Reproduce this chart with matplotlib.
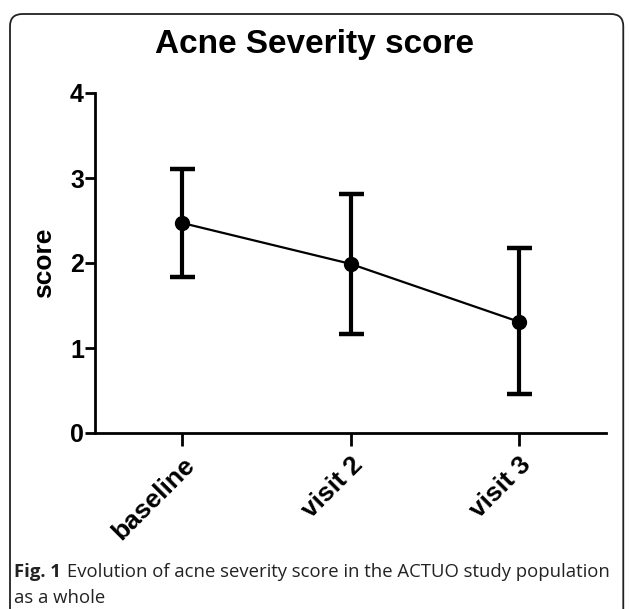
import matplotlib
matplotlib.use("Agg")
import matplotlib.pyplot as plt
from matplotlib.patches import FancyBboxPatch

visits = ["baseline", "visit 2", "visit 3"]
mean_score = [2.47, 1.99, 1.31]
err_up = [0.64, 0.82, 0.87]
err_down = [0.63, 0.83, 0.85]

plt.rcParams['font.family'] = ['Liberation Sans', 'DejaVu Sans']

fig = plt.figure(figsize=(6.29, 6.09), dpi=100)
W, H = 629, 609

# rounded frame around the figure panel
box = FancyBboxPatch((10 / W, -0.05), 0.975, (609 - 14) / H + 0.05,
                     boxstyle="round,pad=0,rounding_size=0.02",
                     transform=fig.transFigure, fill=False,
                     edgecolor="#222222", linewidth=1.3, clip_on=False)
fig.patches.append(box)

ax = fig.add_axes([95 / W, (609 - 433) / H, (606 - 95) / W, (433 - 93) / H])
x = list(range(len(visits)))
ax.errorbar(x, mean_score, yerr=[err_down, err_up], color="black",
            marker="o", markersize=10, linewidth=1.6, elinewidth=3,
            capsize=9, capthick=3.2)

ax.set_xlim(-0.52, 2.52)
ax.set_ylim(0, 4)
ax.set_yticks([0, 1, 2, 3, 4])
ax.set_xticks(x)
ax.set_xticklabels(visits, rotation=45, ha="right", rotation_mode="anchor",
                   fontsize=19, fontweight="bold")
for lab in ax.get_yticklabels():
    lab.set_fontsize(18)
    lab.set_fontweight("bold")
ax.tick_params(axis="y", length=7, width=2, pad=1)
ax.tick_params(axis="x", length=9, width=2, pad=5)
for s in ["top", "right"]:
    ax.spines[s].set_visible(False)
for s in ["left", "bottom"]:
    ax.spines[s].set_linewidth(2)
ax.set_ylabel("score", fontsize=19, fontweight="bold", labelpad=10)

fig.text(0.5, 1 - 45 / H, "Acne Severity score", ha="center", va="center",
         fontsize=24, fontweight="bold")

# caption
cap_font = ['Open Sans', 'DejaVu Sans']
t1 = fig.text(14 / W, 1 - 572 / H, "Fig. 1", ha="left", va="center",
              fontsize=13.3, fontweight="bold", family=cap_font,
              color="#222222")
fig.canvas.draw()
bb = t1.get_window_extent(fig.canvas.get_renderer())
fig.text(bb.x1 / W + 6 / W, 1 - 572 / H,
         "Evolution of acne severity score in the ACTUO study population",
         ha="left", va="center", fontsize=13.3, family=cap_font,
         color="#222222")
fig.text(14 / W, 1 - 598 / H, "as a whole", ha="left", va="center",
         fontsize=13.3, family=cap_font, color="#222222")

fig.savefig("out.png", dpi=100)
